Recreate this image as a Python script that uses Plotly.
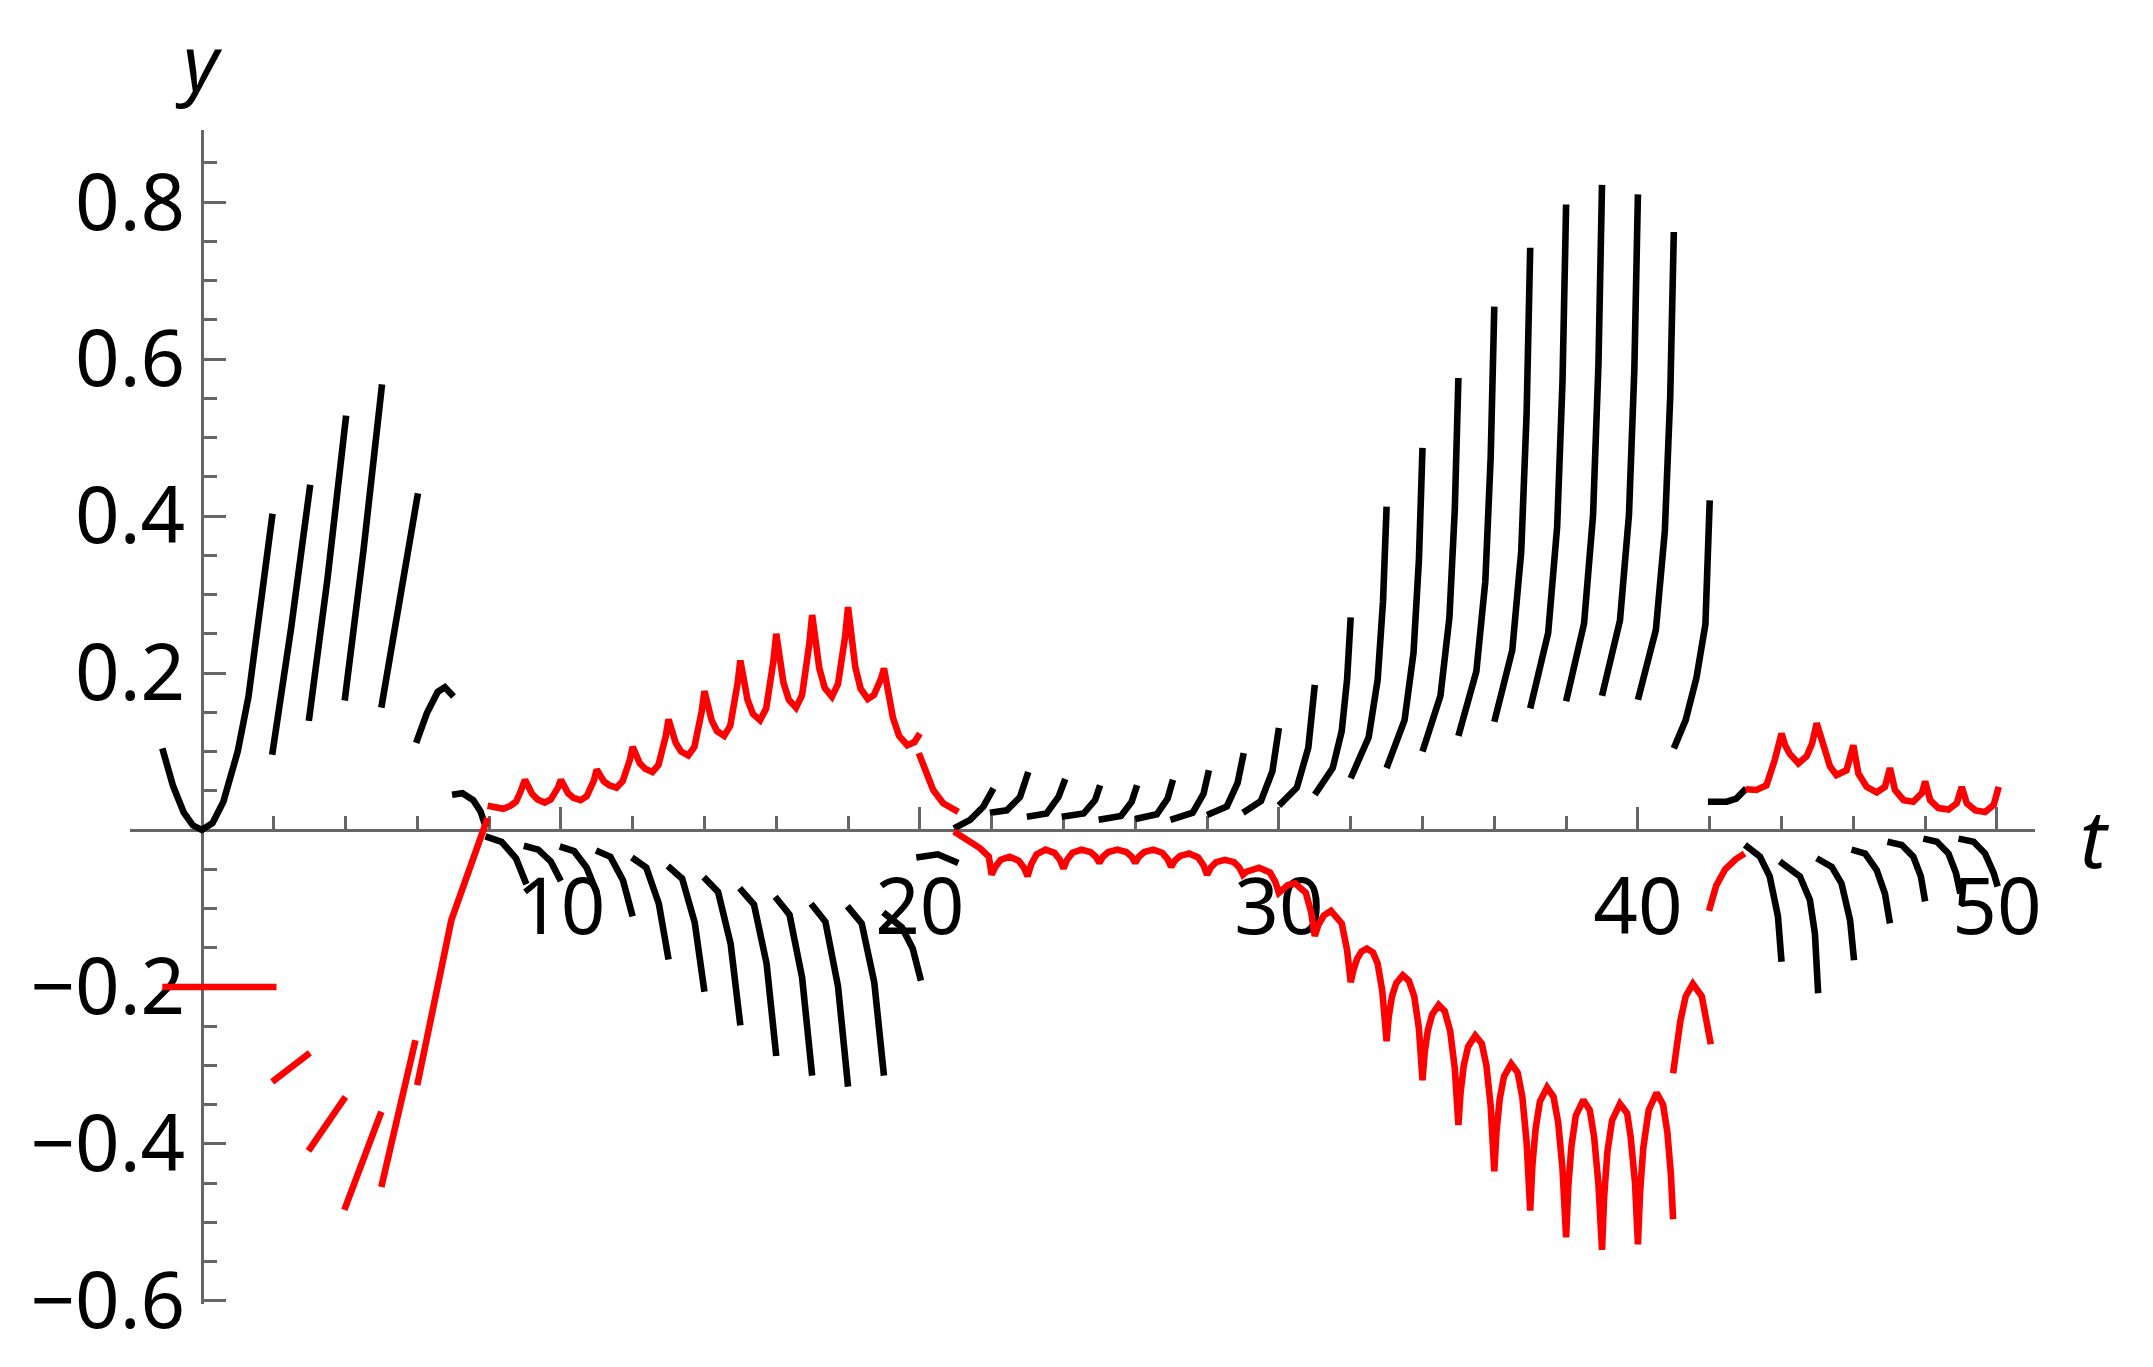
import plotly.graph_objects as go

# ---------------- data (t, y) ----------------
black_early = [
    [[-1.1, 0.104], [-0.8, 0.056], [-0.5, 0.022], [-0.25, 0.006], [0, 0], [0.3, 0.009], [0.6, 0.036],
     [1.0, 0.1], [1.3, 0.17], [1.6, 0.27], [1.97, 0.403]],
    [[1.96, 0.096], [2.49, 0.258], [3.02, 0.44]],
    [[2.98, 0.139], [3.5, 0.32], [4.02, 0.528]],
    [[3.98, 0.165], [4.5, 0.355], [5.02, 0.568]],
    [[5.0, 0.156], [5.5, 0.285], [6.02, 0.429]],
    [[5.97, 0.111], [6.27, 0.149], [6.57, 0.176], [6.77, 0.182], [7.01, 0.170]],
    [[6.97, 0.045], [7.26, 0.047], [7.56, 0.038], [7.76, 0.024], [7.91, 0.004]],
]

black_arcs_mid = [
    [[7.9, -0.008], [8.35, -0.015], [8.75, -0.036], [8.92, -0.054], [9.04, -0.069]],
    [[8.97, -0.020], [9.37, -0.025], [9.72, -0.040], [9.87, -0.054], [10.0, -0.065]],
    [[9.97, -0.021], [10.37, -0.027], [10.72, -0.048], [10.87, -0.065], [11.0, -0.080]],
    [[10.98, -0.026], [11.38, -0.034], [11.73, -0.064], [11.88, -0.089], [12.0, -0.110]],
    [[11.98, -0.035], [12.38, -0.048], [12.73, -0.094], [12.88, -0.133], [13.0, -0.165]],
    [[12.98, -0.046], [13.38, -0.062], [13.73, -0.118], [13.88, -0.166], [14.0, -0.206]],
    [[13.98, -0.060], [14.38, -0.079], [14.73, -0.145], [14.88, -0.202], [15.0, -0.249]],
    [[14.98, -0.074], [15.38, -0.095], [15.73, -0.170], [15.88, -0.234], [16.0, -0.288]],
    [[15.97, -0.085], [16.37, -0.108], [16.72, -0.188], [16.87, -0.256], [17.0, -0.313]],
    [[16.97, -0.094], [17.37, -0.117], [17.72, -0.199], [17.87, -0.269], [18.0, -0.327]],
    [[17.98, -0.097], [18.38, -0.119], [18.73, -0.194], [18.88, -0.259], [19.0, -0.313]],
    [[18.98, -0.105], [19.5, -0.124], [19.8, -0.151], [20.03, -0.192]],
    [[19.9, -0.035], [20.5, -0.031], [21.07, -0.042]],
]

black_rise_small = [
    [[20.95, 0.002], [21.4, 0.013], [21.77, 0.030], [22.05, 0.053]],
    [[21.95, 0.022], [22.42, 0.025], [22.79, 0.042], [23.02, 0.074]],
    [[22.98, 0.017], [23.53, 0.021], [23.86, 0.042], [24.05, 0.065]],
    [[23.95, 0.017], [24.56, 0.021], [24.88, 0.038], [25.02, 0.057]],
    [[24.98, 0.013], [25.6, 0.018], [25.9, 0.036], [26.05, 0.057]],
    [[26.0, 0.014], [26.6, 0.020], [26.9, 0.040], [27.05, 0.064]],
    [[26.98, 0.013], [27.6, 0.022], [27.9, 0.046], [28.05, 0.076]],
    [[28.0, 0.019], [28.55, 0.030], [28.85, 0.060], [29.02, 0.098]],
    [[29.0, 0.022], [29.5, 0.037], [29.82, 0.075], [30.0, 0.130]],
    [[30.0, 0.031], [30.5, 0.054], [30.82, 0.105], [31.0, 0.185]],
]

black_rise_tall = [
    [[31, 0.045], [31.5, 0.079], [31.75, 0.126], [31.9, 0.192], [32, 0.271]],
    [[32, 0.066], [32.5, 0.118], [32.75, 0.191], [32.9, 0.291], [33, 0.412]],
    [[33, 0.079], [33.5, 0.140], [33.75, 0.226], [33.9, 0.344], [34, 0.487]],
    [[34, 0.100], [34.5, 0.171], [34.75, 0.271], [34.9, 0.409], [35, 0.576]],
    [[35, 0.120], [35.5, 0.202], [35.75, 0.317], [35.9, 0.476], [36, 0.667]],
    [[36, 0.138], [36.5, 0.229], [36.75, 0.355], [36.9, 0.531], [37, 0.742]],
    [[37, 0.155], [37.5, 0.251], [37.75, 0.386], [37.9, 0.572], [38, 0.797]],
    [[38, 0.164], [38.5, 0.263], [38.75, 0.401], [38.9, 0.592], [39, 0.822]],
    [[39, 0.171], [39.5, 0.267], [39.75, 0.401], [39.9, 0.586], [40, 0.810]],
    [[40, 0.166], [40.5, 0.255], [40.75, 0.381], [40.9, 0.553], [41, 0.762]],
    [[41, 0.104], [41.33, 0.140], [41.63, 0.194], [41.88, 0.262], [42, 0.420]],
    [[41.95, 0.036], [42.47, 0.036], [42.74, 0.040], [43.02, 0.053]],
]

black_arcs_late = [
    [[42.98, -0.019], [43.4, -0.034], [43.67, -0.059], [43.9, -0.110], [44.0, -0.168]],
    [[43.95, -0.040], [44.51, -0.059], [44.79, -0.089], [44.93, -0.132], [45.02, -0.208]],
    [[44.98, -0.036], [45.4, -0.047], [45.67, -0.068], [45.91, -0.115], [46.02, -0.166]],
    [[45.95, -0.025], [46.33, -0.030], [46.65, -0.051], [46.88, -0.081], [47.02, -0.119]],
    [[46.95, -0.015], [47.35, -0.019], [47.67, -0.034], [47.88, -0.059], [48.0, -0.091]],
    [[47.95, -0.011], [48.33, -0.015], [48.65, -0.030], [48.86, -0.055], [48.98, -0.081]],
    [[48.93, -0.011], [49.35, -0.015], [49.67, -0.030], [49.91, -0.055], [50.02, -0.072]],
]

red_early = [
    [[-1.1, -0.2], [2.08, -0.2]],
    [[1.96, -0.321], [3.01, -0.284]],
    [[2.97, -0.409], [4.0, -0.340]],
    [[3.97, -0.484], [5.0, -0.359]],
    [[5.0, -0.455], [5.95, -0.268]],
    [[6.0, -0.325], [6.95, -0.115], [7.96, 0.015]],
]

red_upper = [
    [[7.96, 0.031], [8.2, 0.028], [8.4, 0.027], [8.6, 0.031], [8.75, 0.036], [8.87, 0.048], [9.0, 0.064],
     [9.1, 0.055], [9.2, 0.046], [9.35, 0.039], [9.55, 0.035], [9.72, 0.039], [9.83, 0.046], [9.92, 0.054], [10.0, 0.064],
     [10.1, 0.055], [10.2, 0.047], [10.35, 0.041], [10.55, 0.038], [10.72, 0.043], [10.83, 0.052], [10.92, 0.063], [11.0, 0.077],
     [11.1, 0.069], [11.2, 0.062], [11.35, 0.057], [11.55, 0.054], [11.72, 0.062], [11.83, 0.075], [11.92, 0.089], [12.0, 0.106],
     [12.1, 0.095], [12.2, 0.085], [12.35, 0.078], [12.55, 0.074], [12.72, 0.083], [12.83, 0.100], [12.92, 0.119], [13.0, 0.141],
     [13.1, 0.125], [13.2, 0.111], [13.35, 0.100], [13.55, 0.095], [13.72, 0.106], [13.83, 0.127], [13.92, 0.150], [14.0, 0.177],
     [14.1, 0.157], [14.2, 0.140], [14.35, 0.126], [14.55, 0.120], [14.72, 0.133], [14.83, 0.158], [14.92, 0.186], [15.0, 0.216],
     [15.1, 0.189], [15.2, 0.166], [15.35, 0.148], [15.55, 0.140], [15.72, 0.155], [15.83, 0.184], [15.92, 0.215], [16.0, 0.250],
     [16.1, 0.216], [16.2, 0.188], [16.35, 0.166], [16.55, 0.156], [16.72, 0.172], [16.83, 0.203], [16.92, 0.237], [17.0, 0.274],
     [17.1, 0.236], [17.2, 0.206], [17.35, 0.181], [17.55, 0.170], [17.72, 0.186], [17.83, 0.214], [17.92, 0.247], [18.0, 0.284],
     [18.1, 0.242], [18.2, 0.208], [18.35, 0.180], [18.55, 0.167], [18.72, 0.172], [18.83, 0.182], [18.92, 0.193], [19.0, 0.206],
     [19.12, 0.172], [19.25, 0.143], [19.42, 0.120], [19.65, 0.108], [19.85, 0.112], [20.0, 0.123]],
    [[19.97, 0.098], [20.14, 0.076], [20.37, 0.051], [20.65, 0.034], [21.07, 0.023]],
]

red_lower = [
    [[20.95, -0.002], [21.3, -0.012], [21.67, -0.023], [21.92, -0.034], [22.0, -0.057],
     [22.1, -0.047], [22.25, -0.038], [22.5, -0.034], [22.75, -0.039], [22.9, -0.048], [23.0, -0.059],
     [23.1, -0.044], [23.25, -0.031], [23.5, -0.025], [23.75, -0.029], [23.9, -0.038], [24.0, -0.049],
     [24.1, -0.038], [24.25, -0.029], [24.5, -0.025], [24.75, -0.028], [24.9, -0.034], [25.0, -0.042],
     [25.1, -0.034], [25.25, -0.028], [25.5, -0.025], [25.75, -0.028], [25.9, -0.034], [26.0, -0.042],
     [26.1, -0.034], [26.25, -0.028], [26.5, -0.025], [26.75, -0.029], [26.9, -0.037], [27.0, -0.047],
     [27.1, -0.039], [27.25, -0.033], [27.5, -0.030], [27.75, -0.035], [27.9, -0.045], [28.0, -0.057],
     [28.1, -0.048], [28.25, -0.041], [28.5, -0.038], [28.75, -0.041], [28.9, -0.048], [29.0, -0.057],
     [29.1, -0.053], [29.25, -0.050], [29.45, -0.048], [29.75, -0.054], [29.9, -0.066], [30.0, -0.080],
     [30.1, -0.075], [30.25, -0.070], [30.45, -0.068], [30.75, -0.080], [30.9, -0.105], [31.0, -0.135],
     [31.1, -0.121], [31.25, -0.109], [31.45, -0.103], [31.75, -0.119], [31.9, -0.153], [32.0, -0.194],
     [32.08, -0.178], [32.18, -0.164], [32.3, -0.155], [32.45, -0.151], [32.62, -0.156], [32.75, -0.170], [32.88, -0.205], [33.0, -0.269],
     [33.06, -0.238], [33.15, -0.212], [33.27, -0.195], [33.45, -0.185], [33.62, -0.192], [33.77, -0.212], [33.9, -0.253], [34.0, -0.319],
     [34.06, -0.284], [34.15, -0.255], [34.27, -0.235], [34.45, -0.223], [34.62, -0.231], [34.77, -0.256], [34.9, -0.304], [35.0, -0.376],
     [35.06, -0.335], [35.15, -0.300], [35.27, -0.276], [35.47, -0.262], [35.65, -0.272], [35.78, -0.300], [35.9, -0.352], [36.0, -0.435],
     [36.06, -0.385], [36.15, -0.343], [36.27, -0.314], [36.47, -0.298], [36.65, -0.309], [36.78, -0.340], [36.9, -0.398], [37.0, -0.485],
     [37.06, -0.428], [37.15, -0.381], [37.27, -0.346], [37.47, -0.328], [37.65, -0.340], [37.78, -0.373], [37.9, -0.432], [38.0, -0.519],
     [38.06, -0.455], [38.15, -0.402], [38.27, -0.364], [38.48, -0.344], [38.66, -0.357], [38.78, -0.391], [38.9, -0.451], [39.0, -0.535],
     [39.06, -0.467], [39.15, -0.410], [39.28, -0.370], [39.5, -0.349], [39.7, -0.361], [39.8, -0.392], [39.92, -0.450], [40.0, -0.528],
     [40.06, -0.462], [40.15, -0.405], [40.3, -0.357], [40.52, -0.335], [40.7, -0.350], [40.82, -0.385], [40.92, -0.440], [40.98, -0.496]],
    [[40.98, -0.310], [41.18, -0.244], [41.33, -0.212], [41.53, -0.196], [41.78, -0.212], [41.93, -0.244],
     [42.03, -0.273]],
    [[41.98, -0.103], [42.18, -0.071], [42.43, -0.050], [42.73, -0.037], [42.97, -0.030]],
]

red_late = [
    [[43.0, 0.052], [43.3, 0.051], [43.58, 0.057], [43.81, 0.089], [44.0, 0.123],
     [44.1, 0.108], [44.23, 0.097], [44.47, 0.085], [44.7, 0.094], [44.85, 0.110], [44.98, 0.136],
     [45.16, 0.106], [45.35, 0.081], [45.53, 0.070], [45.81, 0.076], [46.0, 0.108],
     [46.14, 0.072], [46.37, 0.055], [46.65, 0.048], [46.88, 0.055], [47.02, 0.079],
     [47.16, 0.051], [47.4, 0.038], [47.67, 0.036], [47.91, 0.047], [48.0, 0.062],
     [48.14, 0.038], [48.37, 0.028], [48.65, 0.026], [48.88, 0.034], [49.02, 0.055],
     [49.16, 0.034], [49.4, 0.025], [49.67, 0.023], [49.91, 0.032], [50.05, 0.055]],
]

x_major = [10, 20, 30, 40, 50]
x_minor = [-2, 2, 4, 6, 8, 12, 14, 16, 18, 22, 24, 26, 28, 32, 34, 36, 38, 42, 44, 46, 48]
y_major = [-0.6, -0.4, -0.2, 0.2, 0.4, 0.6, 0.8]
y_major_text = ["\u22120.6", "\u22120.4", "\u22120.2", "0.2", "0.4", "0.6", "0.8"]
y_minor = [-0.55, -0.5, -0.45, -0.35, -0.3, -0.25, -0.15, -0.1, -0.05,
           0.05, 0.1, 0.15, 0.25, 0.3, 0.35, 0.45, 0.5, 0.55, 0.65, 0.7, 0.75, 0.85]

X_RANGE = [-2.0, 51.06]
Y_RANGE = [-0.604, 0.892]


def flatten(segments):
    xs, ys = [], []
    for seg in segments:
        for t, v in seg:
            xs.append(t)
            ys.append(v)
        xs.append(None)
        ys.append(None)
    return xs, ys


fig = go.Figure()
groups = [
    (black_early, "black"), (black_arcs_mid, "black"), (black_rise_small, "black"),
    (black_rise_tall, "black"), (black_arcs_late, "black"),
    (red_early, "#ff0000"), (red_upper, "#ff0000"), (red_lower, "#ff0000"), (red_late, "#ff0000"),
]
for segs, col in groups:
    xs, ys = flatten(segs)
    fig.add_trace(go.Scatter(x=xs, y=ys, mode="lines",
                             line=dict(color=col, width=6.6),
                             hoverinfo="skip", showlegend=False))

axis_col = "#666666"
font_main = dict(family="Noto Sans", size=78, color="black")

x_pos = (0 - Y_RANGE[0]) / (Y_RANGE[1] - Y_RANGE[0])
y_pos = (0 - X_RANGE[0]) / (X_RANGE[1] - X_RANGE[0])

# the page body has an 8px default margin, so the figure is sized to fit the window
fig.update_layout(
    width=2137, height=1351,
    margin=dict(l=122, r=110, t=122, b=55, autoexpand=False),
    paper_bgcolor="white", plot_bgcolor="white",
    showlegend=False,
    xaxis=dict(
        range=X_RANGE, anchor="free", position=x_pos, side="bottom", automargin=False,
        showline=True, linecolor=axis_col, linewidth=3,
        showgrid=False, zeroline=False,
        ticks="inside", ticklen=22, tickwidth=3, tickcolor=axis_col,
        tickmode="array", tickvals=x_major, ticktext=[str(v) for v in x_major],
        tickfont=font_main, ticklabelstandoff=8,
        minor=dict(ticks="inside", ticklen=13, tickwidth=3, tickcolor=axis_col,
                   tickmode="array", tickvals=x_minor, showgrid=False),
        layer="below traces", fixedrange=True,
    ),
    yaxis=dict(
        range=Y_RANGE, anchor="free", position=y_pos, side="left", automargin=False,
        showline=True, linecolor=axis_col, linewidth=3,
        showgrid=False, zeroline=False,
        ticks="inside", ticklen=22, tickwidth=3, tickcolor=axis_col,
        tickmode="array", tickvals=y_major, ticktext=y_major_text,
        tickfont=font_main, ticklabelstandoff=0,
        minor=dict(ticks="inside", ticklen=13, tickwidth=3, tickcolor=axis_col,
                   tickmode="array", tickvals=y_minor, showgrid=False),
        layer="below traces", fixedrange=True,
    ),
    annotations=[
        dict(text="<i>t</i>", x=1.0315, y=0.398, xref="paper", yref="paper", showarrow=False,
             xanchor="center", yanchor="middle", font=dict(family="Noto Sans", size=80, color="black")),
        dict(text="<i>y</i>", x=0.0362, y=1.1039, xref="paper", yref="paper", showarrow=False,
             xanchor="center", yanchor="top", font=dict(family="Noto Sans", size=76, color="black")),
    ],
)

fig.write_html("out.html")
